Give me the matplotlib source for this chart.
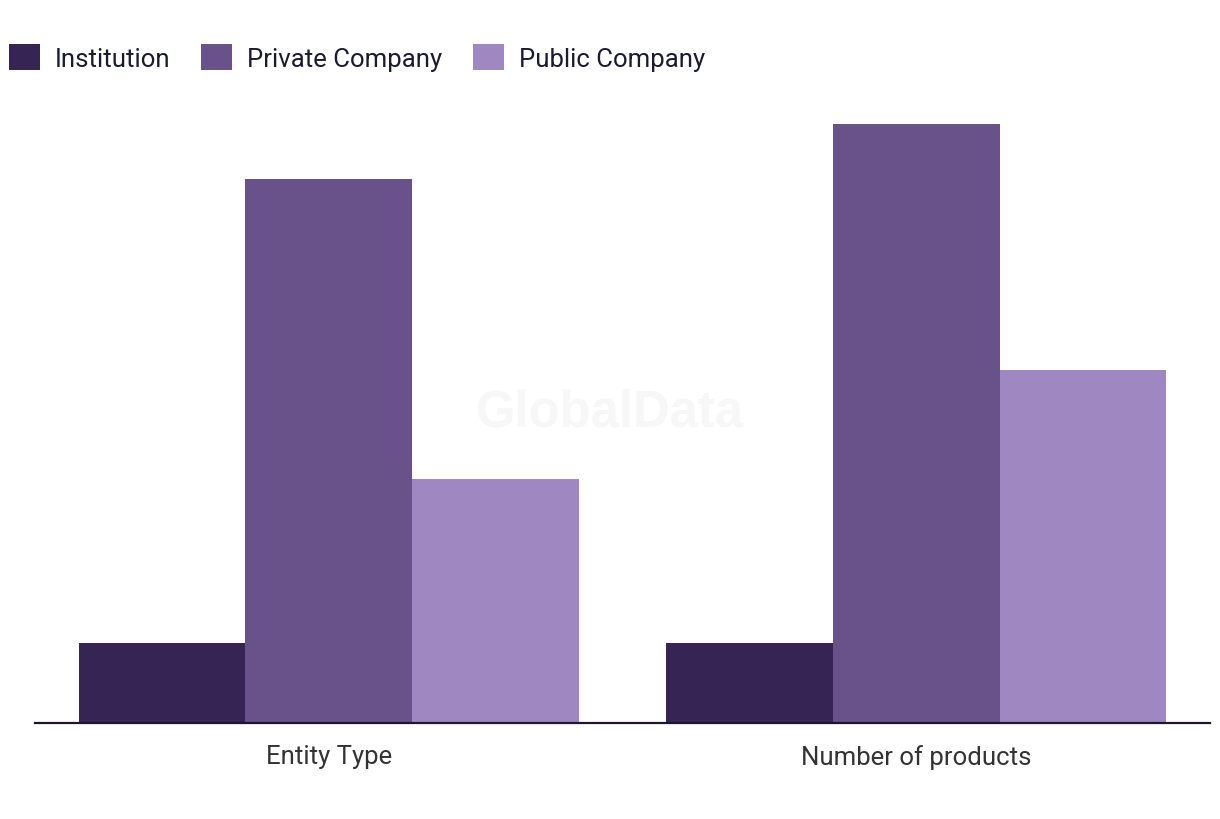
import matplotlib

matplotlib.use("Agg")
import numpy as np
from matplotlib import pyplot as plt
from matplotlib.patches import Patch

# Data
categories = ["Entity Type", "Number of products"]
series_names = ["Institution", "Private Company", "Public Company"]
institution = [8.0, 8.0]
private_company = [54.4, 59.9]
public_company = [24.4, 35.3]

colors = ["#362454", "#69528a", "#9f88c1"]

plt.rcParams["font.family"] = ["Roboto", "DejaVu Sans"]

fig = plt.figure(figsize=(12.2, 8.2), dpi=100)
ax = fig.add_axes([35 / 1220, 1 - 724 / 820, 1175 / 1220, 624 / 820])

x = np.arange(len(categories))
width = 0.2836
all_series = [institution, private_company, public_company]
for i, vals in enumerate(all_series):
    ax.bar(x + (i - 1) * width, vals, width, color=colors[i], linewidth=0)

ax.set_xlim(-0.5, 1.5)
ax.set_ylim(0, 62.4)
ax.set_yticks([])
ax.set_xticks(x)
ax.set_xticklabels(categories, fontsize=18.5, color="#333333")
ax.tick_params(axis="x", length=0, pad=15)
for side in ["top", "right", "left"]:
    ax.spines[side].set_visible(False)
ax.spines["bottom"].set_color("#1e1530")
ax.spines["bottom"].set_linewidth(1.6)

# watermark
fig.text(0.5, 1 - 413 / 820, "GlobalData", ha="center", va="center",
         fontsize=36.5, fontweight="bold", color="#f7f7f7",
         family=["Liberation Sans", "DejaVu Sans"], zorder=0)
ax.set_zorder(1)
ax.patch.set_alpha(0)

handles = [Patch(facecolor=c, edgecolor="none") for c in colors]
fig.legend(handles, series_names, loc="upper left",
           bbox_to_anchor=(9 / 1220, 1 - 45 / 820), ncol=3, frameon=False,
           fontsize=18.5, handlelength=1.2, handleheight=1.2,
           handletextpad=0.58, columnspacing=1.2, borderpad=0,
           borderaxespad=0, labelcolor="#1a1a33")

fig.savefig("out.png", dpi=100)
